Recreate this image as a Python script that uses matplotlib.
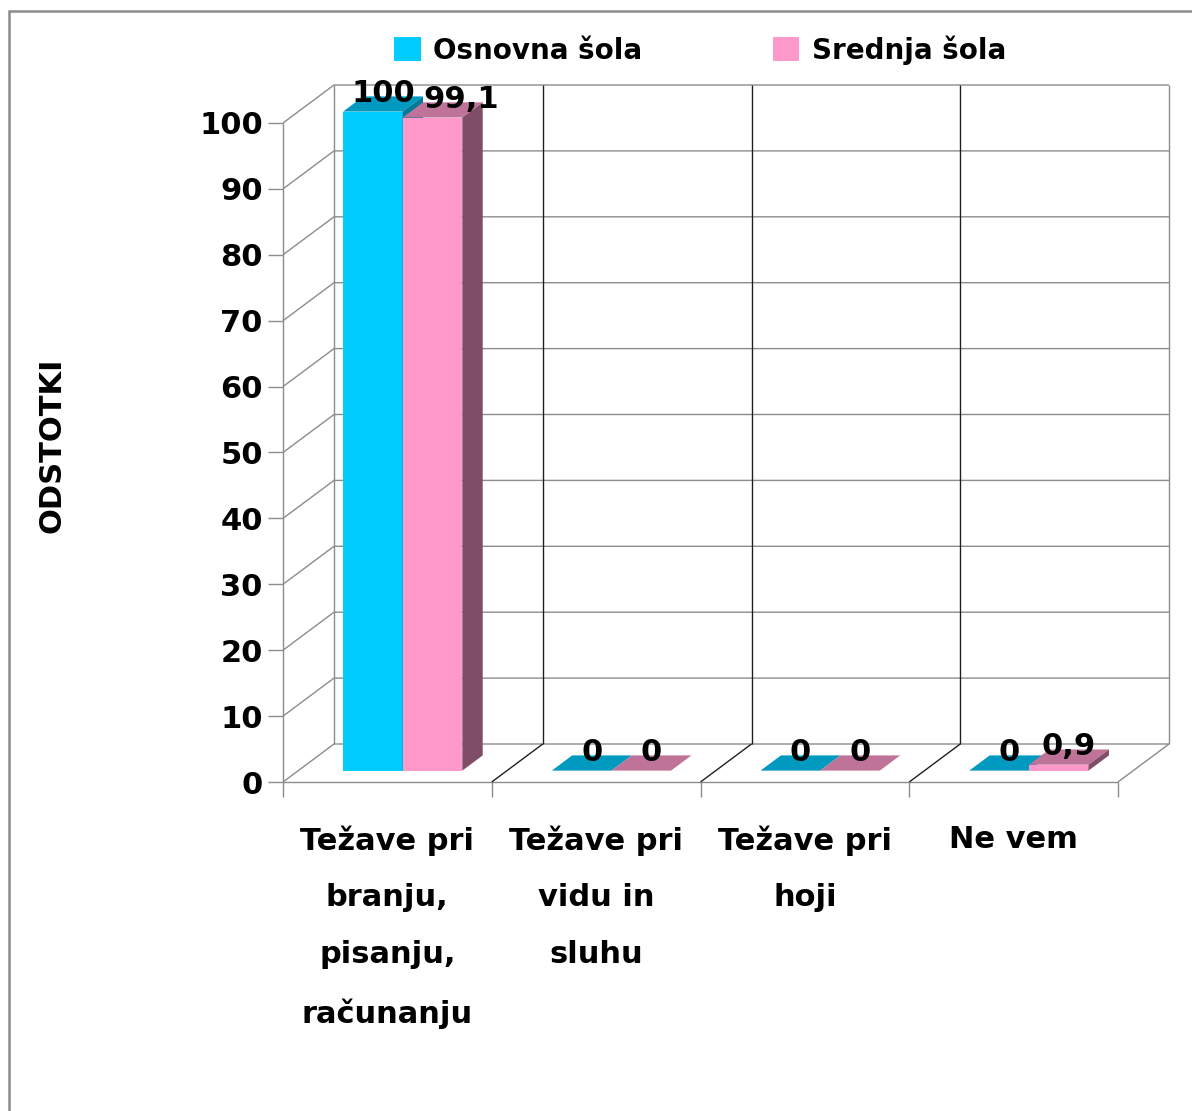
import matplotlib
matplotlib.use("Agg")
import matplotlib.pyplot as plt
from matplotlib.patches import Polygon, Patch, Rectangle

# ---------------- data ----------------
categories = ["Težave pri\nbranju,\npisanju,\nračunanju",
              "Težave pri\nvidu in\nsluhu",
              "Težave pri\nhoji",
              "Ne vem"]
series_names = ["Osnovna šola", "Srednja šola"]
osnovna = [100, 0, 0, 0]
srednja = [99.1, 0, 0, 0.9]
y_ticks = list(range(0, 101, 10))
y_label = "ODSTOTKI"

# ---------------- style ----------------
W, H = 1192, 1111
FONT = "DejaVu Sans"
FS = 22
front_cols = ["#00CCFF", "#FF99CC"]
top_cols = ["#0099C0", "#BF7399"]
side_cols = ["#007A99", "#804D66"]
grid_col = "#8C8C8C"
div_col = "#202020"

plt.rcParams["font.family"] = [FONT]
plt.rcParams["font.weight"] = "bold"

fig = plt.figure(figsize=(W / 100, H / 100), dpi=100)
fig.patch.set_facecolor("white")

# front plane of the 3-D box (pixels -> figure fraction)
left_px, right_px, floor_px, top_px = 283, 1118, 782, 123
ax = fig.add_axes([left_px / W, (H - floor_px) / H,
                   (right_px - left_px) / W, (floor_px - top_px) / H])
n = len(categories)
ax.set_xlim(0, n)
ax.set_ylim(0, 100)
ax.set_facecolor("none")
for s in ax.spines.values():
    s.set_visible(False)

# depth vector in data units (51 px right, 38 px up)
DX = 51 / ((right_px - left_px) / n)
DY = 38 / ((floor_px - top_px) / 100)


def P(x, y, d):
    return (x + d * DX, y + d * DY)


def line(pts, color, lw=1.0, z=1):
    xs, ys = zip(*pts)
    ax.plot(xs, ys, color=color, lw=lw, zorder=z, clip_on=False,
            solid_capstyle="butt")


# walls and gridlines
for t in y_ticks:
    line([P(0, t, 0), P(0, t, 1), P(n, t, 1)], grid_col)
line([P(0, 0, 0), P(0, 100, 0)], grid_col)
line([P(0, 0, 1), P(0, 100, 1)], grid_col)
line([P(0, 0, 0), P(n, 0, 0)], grid_col)
for k in range(1, n + 1):
    c = div_col if k < n else grid_col
    line([P(k, 0, 0), P(k, 0, 1)], c)
    line([P(k, 0, 1), P(k, 100, 1)], c)

# ticks
ax.set_yticks(y_ticks)
ax.set_yticklabels([str(t) for t in y_ticks], fontsize=FS, fontweight="bold")
ax.tick_params(axis="y", length=11, width=1, color=grid_col, pad=3.5)
ax.set_xticks(range(n + 1), minor=True)
ax.tick_params(axis="x", which="minor", length=11, width=1, color=grid_col)
ax.set_xticks([i + 0.5 for i in range(n)])
ax.set_xticklabels(categories, fontsize=FS, fontweight="bold",
                   linespacing=2.2, va="top")
ax.tick_params(axis="x", which="major", length=0, pad=31)

# bars
w = 1 / 3.5
gap = 0.75 * w
d0, d1 = 0.3, 0.7
label_nudge = {(1, 0): 13}
for i in range(n):
    for j, vals in enumerate([osnovna, srednja]):
        v = vals[i]
        x0 = i + gap + j * w
        x1 = x0 + w
        z = 3 + j
        ax.bar(x0 + d0 * DX, v, bottom=d0 * DY, width=w, align="edge",
               color=front_cols[j], zorder=z, clip_on=False, linewidth=0)
        ax.add_patch(Polygon([P(x0, v, d0), P(x1, v, d0), P(x1, v, d1), P(x0, v, d1)],
                             closed=True, facecolor=top_cols[j], edgecolor="none",
                             zorder=z, clip_on=False))
        ax.add_patch(Polygon([P(x1, 0, d0), P(x1, v, d0), P(x1, v, d1), P(x1, 0, d1)],
                             closed=True, facecolor=side_cols[j], edgecolor="none",
                             zorder=z, clip_on=False))
        lx, ly = P((x0 + x1) / 2, v, (d0 + d1) / 2)
        txt = f"{v:g}".replace(".", ",")
        ax.annotate(txt, (lx, ly), xytext=(label_nudge.get((j, i), 0), 7.5),
                    textcoords="offset points", ha="center", va="center",
                    fontsize=FS, fontweight="bold", zorder=10,
                    annotation_clip=False)

# axis title
fig.text(52 / W, 1 - 445 / H, y_label, rotation=90, ha="center", va="center",
         fontsize=FS, fontweight="bold")

# legend
handles = [Patch(facecolor=c, edgecolor="none") for c in front_cols]
fig.legend(handles, series_names, loc="center", ncol=2,
           bbox_to_anchor=(700 / W, 1 - 50 / H), frameon=False,
           prop={"size": FS - 2, "weight": "bold"},
           handlelength=0.95, handleheight=0.95, handletextpad=0.45,
           columnspacing=4.7)

# outer border (only left and top edges visible)
fig.patches.append(Rectangle((8.5 / W, -0.1), 1.2, 1.1 - 11 / H,
                             transform=fig.transFigure, fill=False,
                             edgecolor="#8C8C8C", linewidth=1.8, zorder=0))

fig.savefig("out.png", dpi=100, facecolor="white")
